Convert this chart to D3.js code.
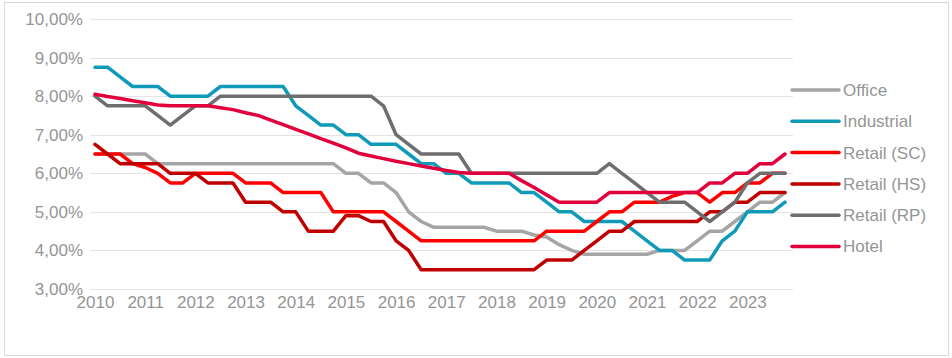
<!DOCTYPE html>
<html>
<head>
<meta charset="utf-8">
<script src="https://cdn.jsdelivr.net/npm/d3@7/dist/d3.min.js"></script>
<style>
html,body{margin:0;padding:0;background:#fff;}
text{font-family:"Liberation Sans",Arial,sans-serif;}
</style>
</head>
<body>
<svg id="chart" width="952" height="358"></svg>
<script>
// quarterly data 2010Q1 .. 2023Q4 (yields, %)
const quarters = d3.range(2010, 2024).flatMap(y => [1,2,3,4].map(q => y + "Q" + q));
const yearLabels = ["2010","2011","2012","2013","2014","2015","2016","2017","2018","2019","2020","2021","2022","2023"];
const yTicks = [3,4,5,6,7,8,9,10];
const seriesNames = ["Office","Industrial","Retail (SC)","Retail (HS)","Retail (RP)","Hotel"];
const seriesColors = ["#A5A5A5","#0F9BB8","#FF0000","#C00000","#6E6E6E","#E2003C"];

const office = [6.5,6.5,6.5,6.5,6.5,6.25,6.25,6.25,6.25,6.25,6.25,6.25,6.25,6.25,6.25,6.25,6.25,6.25,6.25,6.25,
  6.0,6.0,5.75,5.75,5.5,5.0,4.75,4.6,4.6,4.6,4.6,4.6,4.5,4.5,4.5,4.4,4.35,4.15,4.0,3.9,
  3.9,3.9,3.9,3.9,3.9,4.0,4.0,4.0,4.25,4.5,4.5,4.75,5.0,5.25,5.25,5.5];
const industrial = [8.75,8.75,8.5,8.25,8.25,8.25,8.0,8.0,8.0,8.0,8.25,8.25,8.25,8.25,8.25,8.25,7.75,7.5,7.25,7.25,
  7.0,7.0,6.75,6.75,6.75,6.5,6.25,6.25,6.0,6.0,5.75,5.75,5.75,5.75,5.5,5.5,5.25,5.0,5.0,4.75,
  4.75,4.75,4.75,4.5,4.25,4.0,4.0,3.75,3.75,3.75,4.25,4.5,5.0,5.0,5.0,5.25];
const retailSC = [6.5,6.5,6.5,6.25,6.15,6.0,5.75,5.75,6.0,6.0,6.0,6.0,5.75,5.75,5.75,5.5,5.5,5.5,5.5,5.0,
  5.0,5.0,5.0,5.0,4.75,4.5,4.25,4.25,4.25,4.25,4.25,4.25,4.25,4.25,4.25,4.25,4.5,4.5,4.5,4.5,
  4.75,5.0,5.0,5.25,5.25,5.25,5.4,5.5,5.5,5.25,5.5,5.5,5.75,5.75,6.0,6.0];
const retailHS = [6.75,6.5,6.25,6.25,6.25,6.25,6.0,6.0,6.0,5.75,5.75,5.75,5.25,5.25,5.25,5.0,5.0,4.5,4.5,4.5,
  4.9,4.9,4.75,4.75,4.25,4.0,3.5,3.5,3.5,3.5,3.5,3.5,3.5,3.5,3.5,3.5,3.75,3.75,3.75,4.0,
  4.25,4.5,4.5,4.75,4.75,4.75,4.75,4.75,4.75,5.0,5.0,5.25,5.25,5.5,5.5,5.5];
const retailRP = [8.0,7.75,7.75,7.75,7.75,7.5,7.25,7.5,7.75,7.75,8.0,8.0,8.0,8.0,8.0,8.0,8.0,8.0,8.0,8.0,
  8.0,8.0,8.0,7.75,7.0,6.75,6.5,6.5,6.5,6.5,6.0,6.0,6.0,6.0,6.0,6.0,6.0,6.0,6.0,6.0,
  6.0,6.25,6.0,5.75,5.5,5.25,5.25,5.25,5.0,4.75,5.0,5.25,5.75,6.0,6.0,6.0];
const hotel = [8.05,7.99,7.94,7.88,7.83,7.77,7.75,7.75,7.75,7.75,7.7,7.65,7.57,7.5,7.38,7.26,7.14,7.02,6.9,6.78,
  6.66,6.52,6.45,6.38,6.31,6.25,6.19,6.13,6.07,6.02,6.0,6.0,6.0,6.0,5.81,5.63,5.44,5.25,5.25,5.25,
  5.25,5.5,5.5,5.5,5.5,5.5,5.5,5.5,5.5,5.75,5.75,6.0,6.0,6.25,6.25,6.5];
const seriesValues = [office, industrial, retailSC, retailHS, retailRP, hotel];

const svg = d3.select("#chart");
const textColor = "#959595";

// frame
svg.append("rect").attr("x",4.5).attr("y",2.5).attr("width",944).attr("height",353)
  .attr("fill","none").attr("stroke","#d9d9d9").attr("stroke-width",1);

const x = d3.scaleLinear().domain([0, quarters.length - 1]).range([95, 785]);
const y = d3.scaleLinear().domain([3, 10]).range([289, 19]);

// gridlines
svg.append("g").selectAll("line").data(yTicks).join("line")
  .attr("x1",90).attr("x2",793)
  .attr("y1",d=>Math.round(y(d))+0.5).attr("y2",d=>Math.round(y(d))+0.5)
  .attr("stroke","#e3e3e3").attr("stroke-width",1);

// y axis labels
const yAxis = d3.axisLeft(y).tickValues(yTicks).tickSize(0).tickPadding(0)
  .tickFormat(d => d.toFixed(2).replace(".", ",") + "%");
const gy = svg.append("g").attr("transform","translate(83,0)").call(yAxis);
gy.select(".domain").remove();
gy.selectAll("text").attr("fill",textColor).style("font-size","17px")
  .style("font-family","'Liberation Sans',Arial,sans-serif");

// x axis labels
const xAxis = d3.axisBottom(x).tickValues(yearLabels.map((_,i)=>i*4)).tickSize(0).tickPadding(0)
  .tickFormat((d,i) => yearLabels[i]);
const gx = svg.append("g").attr("transform","translate(0,296)").call(xAxis);
gx.select(".domain").remove();
gx.selectAll("text").attr("fill",textColor).style("font-size","17px")
  .style("font-family","'Liberation Sans',Arial,sans-serif");

// lines
const line = d3.line().x((d,i)=>x(i)).y(d=>y(d));
svg.append("g").selectAll("path").data(seriesValues).join("path")
  .attr("d", line).attr("fill","none")
  .attr("stroke",(d,i)=>seriesColors[i]).attr("stroke-width",3.5)
  .attr("stroke-linejoin","round").attr("stroke-linecap","round");

// legend
const lg = svg.append("g").selectAll("g").data(seriesNames).join("g")
  .attr("transform",(d,i)=>`translate(0,${90 + i*31.3})`);
lg.append("line").attr("x1",792).attr("x2",839).attr("y1",0).attr("y2",0)
  .attr("stroke",(d,i)=>seriesColors[i]).attr("stroke-width",3.5).attr("stroke-linecap","round");
lg.append("text").attr("x",843).attr("y",0).attr("dy","0.35em")
  .attr("fill",textColor).style("font-size","17px").text(d=>d);
</script>
</body>
</html>
